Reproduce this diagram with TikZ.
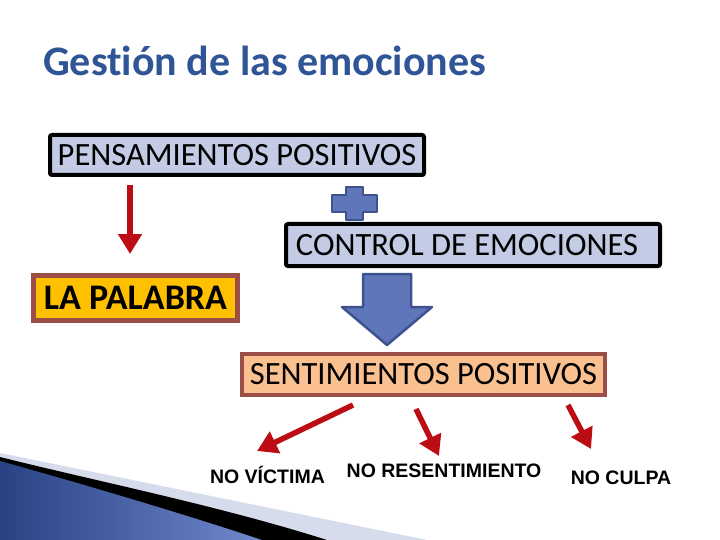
\documentclass[tikz,border=0pt]{standalone}
\usepackage{fontspec}
\setmainfont[Ligatures=NoCommon]{Carlito}
\newfontfamily\arialf{Liberation Sans}
\usetikzlibrary{arrows.meta}
\definecolor{titleblue}{RGB}{47,85,151}
\definecolor{boxblue}{RGB}{196,203,228}
\definecolor{darkred}{RGB}{188,12,20}
\definecolor{goldf}{RGB}{255,192,0}
\definecolor{brownb}{RGB}{155,78,72}
\definecolor{peach}{RGB}{250,192,144}
\definecolor{arrowblue}{RGB}{96,118,186}
\definecolor{arrowedge}{RGB}{62,82,142}
\definecolor{bandc}{RGB}{214,220,236}
\definecolor{decodark}{RGB}{40,66,132}
\definecolor{decolight}{RGB}{112,136,204}
\tikzset{
  bluebox/.style={draw=black, line width=4pt, fill=boxblue, rounded corners=2pt,
    inner sep=0pt, font=\fontsize{32.5}{34}\selectfont, text=black},
  goldbox/.style={draw=brownb, line width=5pt, fill=goldf, inner sep=0pt,
    font=\bfseries\fontsize{36}{38}\selectfont, text=black},
  peachbox/.style={draw=brownb, line width=4pt, fill=peach, inner sep=0pt,
    font=\fontsize{32.5}{34}\selectfont, text=black},
  redarrow/.style={draw=darkred, line width=5.5pt,
    -{Triangle[width=23pt,length=20pt]}},
  outlbl/.style={font=\arialf\bfseries\fontsize{19.5}{21}\selectfont, text=black, inner sep=0pt},
  blueshape/.style={fill=arrowblue, draw=arrowedge, line width=2.5pt, line join=round}
}
\begin{document}
\begin{tikzpicture}[x=1pt,y=-1pt]
\useasboundingbox (0,0) rectangle (720,540);
\fill[white] (0,0) rectangle (720,540);
% bottom-left decoration
\fill[bandc] (0,453) -- (427,540) -- (0,540) -- cycle;
\fill[black] (0,457) .. controls (100,482) and (220,506) .. (327,540) -- (0,540) -- cycle;
\shade[left color=decodark, right color=decolight]
  (0,461) .. controls (90,486) and (190,516) .. (262,540) -- (0,540) -- cycle;
% title
\node[anchor=base west, inner sep=0pt, text=titleblue,
  font=\bfseries\fontsize{42}{44}\selectfont] (title) at (43,76) {Gest\kern0pt ión de las emociones};
% boxes
\node[bluebox, minimum width=374pt, minimum height=40pt] (pens) at (237,155) {PENSAMIENTOS POSITIVOS};
\node[bluebox, minimum width=374pt, minimum height=42pt] (ctrl) at (473,245) {\hspace*{-12pt}CONTROL DE EMOCIONES};
\node[goldbox, minimum width=204pt, minimum height=45pt] (pal) at (135.5,298) {LA PALABRA};
\node[peachbox, minimum width=363pt, minimum height=41pt] (sent) at (423.5,374.5) {SENTIMIENTOS POSITIVOS};
% plus sign
\draw[blueshape] (346,187) -- (363,187) -- (363,195) -- (377,195) -- (377,212) -- (363,212)
  -- (363,220) -- (346,220) -- (346,212) -- (332,212) -- (332,195) -- (346,195) -- cycle;
% big down arrow
\draw[blueshape] (363,274) -- (411,274) -- (411,307) -- (432,307) -- (387,345)
  -- (342,307) -- (363,307) -- cycle;
% red arrows
\coordinate (a1s) at (130,185);
\coordinate (a1e) at (130,254);
\draw[redarrow] (a1s) -- (a1e);
\coordinate (b1s) at (353,405);
\coordinate (b1e) at (257,451);
\coordinate (b2s) at (416,409);
\coordinate (b2e) at (439,456);
\coordinate (b3s) at (568,405);
\coordinate (b3e) at (591,449);
\draw[redarrow] (b1s) -- (b1e);
\draw[redarrow] (b2s) -- (b2e);
\draw[redarrow] (b3s) -- (b3e);
% labels
\node[outlbl, anchor=base] (vic) at (267.5,483) {NO VÍCTIMA};
\node[outlbl, anchor=base] (res) at (444,477) {NO RESENTIMIENTO};
\node[outlbl, anchor=base] (cul) at (621,484) {NO CULPA};
\end{tikzpicture}
\end{document}
